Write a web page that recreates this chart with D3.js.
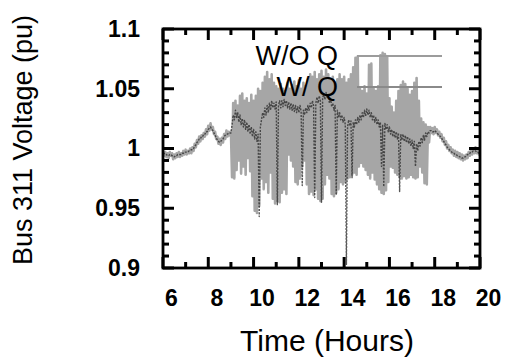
<!DOCTYPE html>
<html>
<head>
<meta charset="utf-8">
<script src="https://cdn.jsdelivr.net/npm/d3@7"></script>
<style>
  html, body { margin: 0; padding: 0; background: #fff; }
  svg { display: block; font-family: "Liberation Sans", Arial, sans-serif; }
</style>
</head>
<body>
<svg id="chart" width="505" height="364"></svg>
<script>
// ---------------- data ----------------
const startHour = 6;
const stepHours = 0.05;
const seriesNames = ["W/O Q", "W/ Q"];
const xTickValues = [6, 8, 10, 12, 14, 16, 18, 20];
const xTickLabels = ["6", "8", "10", "12", "14", "16", "18", "20"];
const yTickValues = [0.9, 0.95, 1, 1.05, 1.1];
const yTickLabels = ["0.9", "0.95", "1", "1.05", "1.1"];

// W/O Q voltage, sampled every 0.05 h from 6:00 to 20:00
const voltageWithoutQ = [
  // 6.00 - 6.95
  0.998,0.994,0.997,0.993,0.996,0.992,0.997,0.994,0.996,0.991,0.995,0.992,0.996,0.993,0.997,0.993,0.996,0.994,0.998,0.995,
  // 7.00 - 7.95
  0.999,0.995,0.998,0.996,1.000,0.996,1.001,0.998,1.004,1.001,1.007,1.004,1.010,1.006,1.011,1.008,1.013,1.010,1.016,1.012,
  // 8.00 - 8.95
  1.019,1.015,1.021,1.016,1.018,1.012,1.014,1.008,1.010,1.004,1.008,1.003,1.009,1.005,1.012,1.008,1.015,1.010,1.014,1.011,
  // 9.00 - 9.95
  1.014,0.976,1.038,0.975,1.040,0.982,1.036,0.990,1.044,0.979,1.046,0.985,1.040,0.978,1.042,0.992,1.038,0.981,1.045,0.960,
  // 10.00 - 10.95
  1.040,0.948,1.044,0.946,1.050,0.952,1.048,0.975,1.055,0.966,1.060,0.972,1.064,0.963,1.058,0.980,1.062,0.958,1.055,0.954,
  // 11.00 - 11.95
  1.052,0.956,1.050,0.955,1.054,0.963,1.050,0.966,1.048,0.962,1.055,0.995,1.050,0.990,1.053,0.985,1.056,0.972,1.052,0.970,
  // 12.00 - 12.95
  1.057,0.975,1.050,0.985,1.055,0.990,1.052,0.970,1.058,0.962,1.062,0.964,1.060,0.961,1.064,0.966,1.058,0.958,1.062,0.956,
  // 13.00 - 13.95
  1.065,0.958,1.060,0.970,1.066,0.978,1.062,0.975,1.058,0.962,1.060,0.960,1.055,0.963,1.058,0.966,1.062,0.972,1.058,0.970,
  // 14.00 - 14.95
  1.060,0.972,1.055,0.975,1.058,0.976,1.062,0.978,1.068,0.980,1.076,0.978,1.077,0.985,1.050,0.988,1.048,0.985,1.052,0.982,
  // 15.00 - 15.95
  1.046,0.978,1.070,0.975,1.071,0.980,1.050,0.974,1.048,0.970,1.052,0.966,1.078,0.963,1.080,0.962,1.079,0.965,1.077,0.972,
  // 16.00 - 16.95
  1.042,0.985,1.035,0.984,1.030,0.980,1.040,0.978,1.048,0.976,1.053,0.975,1.056,0.977,1.054,0.975,1.050,0.976,1.045,0.978,
  // 17.00 - 17.75
  1.048,0.976,1.055,0.975,1.059,0.976,1.040,0.985,1.025,0.980,1.022,0.971,1.020,0.970,1.018,1.005,
  // 17.80 - 18.75
  1.018,1.013,1.017,1.012,1.018,1.013,1.016,1.011,1.014,1.009,1.012,1.006,1.009,1.003,1.006,1.000,1.003,0.998,1.001,0.996,
  // 18.80 - 19.75
  0.999,0.994,0.998,0.993,0.997,0.992,0.996,0.991,0.995,0.990,0.994,0.991,0.995,0.992,0.997,0.994,0.999,0.995,1.000,0.996,
  // 19.80 - 20.00
  1.001,0.996,0.999,0.995,0.998
];

// W/ Q voltage, sampled every 0.05 h from 6:00 to 20:00
const voltageWithQ = [
  // 6.00 - 6.95
  0.996,0.996,0.995,0.995,0.994,0.994,0.995,0.995,0.994,0.993,0.993,0.994,0.994,0.995,0.995,0.995,0.995,0.996,0.996,0.997,
  // 7.00 - 7.95
  0.997,0.997,0.997,0.998,0.998,0.999,0.999,1.000,1.002,1.003,1.005,1.006,1.008,1.008,1.010,1.010,1.012,1.012,1.014,1.014,
  // 8.00 - 8.95
  1.016,1.017,1.018,1.016,1.015,1.013,1.011,1.009,1.007,1.006,1.005,1.006,1.007,1.008,1.010,1.011,1.012,1.012,1.013,1.013,
  // 9.00 - 9.95
  1.013,1.020,1.028,1.024,1.032,1.026,1.030,1.022,1.028,1.020,1.025,1.018,1.024,1.016,1.022,1.014,1.020,1.012,1.018,1.010,
  // 10.00 - 10.95
  1.016,1.008,1.014,1.006,1.012,0.943,1.018,1.024,1.030,1.026,1.034,1.028,1.036,1.030,1.038,1.032,1.040,1.034,1.038,1.033,
  // 11.00 - 11.95
  1.039,0.953,1.036,1.040,1.034,1.040,1.035,1.041,1.036,1.040,1.034,1.039,1.033,1.038,1.032,1.037,1.031,1.036,1.030,1.035,
  // 12.00 - 12.95
  1.030,1.036,1.031,0.969,1.032,1.028,1.034,1.030,1.036,1.032,1.038,1.034,1.040,1.036,0.959,1.038,1.043,1.038,1.044,1.040,
  // 13.00 - 13.95
  0.955,1.042,1.046,1.041,1.047,1.042,1.045,1.038,1.042,1.035,1.038,1.032,1.036,0.961,1.032,1.026,1.030,1.024,1.028,1.022,
  // 14.00 - 14.95
  1.026,1.020,0.903,1.018,1.024,1.019,1.023,0.975,1.022,1.018,1.024,1.020,1.026,1.022,1.028,1.024,1.030,1.026,1.032,1.027,
  // 15.00 - 15.95
  1.033,1.028,1.032,1.026,1.030,1.024,1.028,1.022,1.026,1.020,1.024,1.018,1.022,0.985,1.020,0.968,1.021,1.016,1.020,1.014,
  // 16.00 - 16.95
  1.018,1.012,1.016,1.010,1.015,1.009,1.014,1.008,1.013,0.964,1.012,1.007,1.012,1.006,1.011,1.005,1.010,1.004,1.008,1.002,
  // 17.00 - 17.75
  1.007,1.000,1.006,0.985,1.004,0.998,1.006,1.002,1.009,1.005,1.011,1.007,1.013,1.010,1.014,1.013,
  // 17.80 - 18.75
  1.015,1.015,1.014,1.014,1.015,1.014,1.013,1.012,1.011,1.010,1.009,1.007,1.006,1.004,1.003,1.001,1.000,0.999,0.998,0.997,
  // 18.80 - 19.75
  0.996,0.996,0.995,0.995,0.994,0.994,0.993,0.993,0.992,0.992,0.993,0.993,0.994,0.995,0.995,0.996,0.997,0.997,0.998,0.998,
  // 19.80 - 20.00
  0.998,0.997,0.997,0.996,0.996
];

// ---------------- chart ----------------
const svg = d3.select("#chart");
const plotLeft = 163, plotRight = 480, plotTop = 29, plotBottom = 268;

const x = d3.scaleLinear().domain([6, 20]).range([plotLeft, plotRight]);
const y = d3.scaleLinear().domain([0.9, 1.1]).range([plotBottom, plotTop]);

const toPoints = vals => vals.map((v, i) => [startHour + i * stepHours, v]);
const line = d3.line().x(d => x(d[0])).y(d => y(d[1]));

svg.append("defs").append("clipPath").attr("id", "clip")
  .append("rect").attr("x", plotLeft).attr("y", plotTop)
  .attr("width", plotRight - plotLeft).attr("height", plotBottom - plotTop);

const dataG = svg.append("g").attr("clip-path", "url(#clip)");
dataG.append("path")
  .datum(toPoints(voltageWithoutQ))
  .attr("d", line)
  .attr("fill", "none")
  .attr("stroke", "#a6a6a6")
  .attr("stroke-width", 2.6)
  .attr("stroke-linejoin", "round");
dataG.append("path")
  .datum(toPoints(voltageWithQ))
  .attr("d", line)
  .attr("fill", "none")
  .attr("stroke", "#2e2e2e")
  .attr("stroke-width", 1.4)
  .attr("stroke-dasharray", "2 1.3")
  .attr("stroke-opacity", 0.8)
  .attr("stroke-linejoin", "round");

// frame
svg.append("rect")
  .attr("x", plotLeft).attr("y", plotTop)
  .attr("width", plotRight - plotLeft).attr("height", plotBottom - plotTop)
  .attr("fill", "none").attr("stroke", "#000").attr("stroke-width", 2.8);

// ---- tick marks (inward on all four sides) ----
const hourTicks = d3.range(6, 21, 1);
const minorY = d3.range(0, 21).map(i => 0.9 + i * 0.01);
const ticksG = svg.append("g");
const isMajorX = h => xTickValues.includes(h);
const isMajorY = v => yTickValues.some(t => Math.abs(t - v) < 1e-6);

function tickLines(cls, data, fn) {
  ticksG.selectAll("line." + cls).data(data).join("line")
    .attr("class", cls)
    .each(function (d) {
      const c = fn(d);
      d3.select(this).attr("x1", c[0]).attr("y1", c[1]).attr("x2", c[2]).attr("y2", c[3]);
    })
    .style("stroke", "#000")
    .style("stroke-width", "3px");
}
tickLines("xb", hourTicks, d => [x(d), plotBottom, x(d), plotBottom - (isMajorX(d) ? 11 : 6)]);
tickLines("xt", hourTicks, d => [x(d), plotTop, x(d), plotTop + (isMajorX(d) ? 11 : 6)]);
tickLines("yl", minorY, d => [plotLeft, y(d), plotLeft + (isMajorY(d) ? 11 : 6), y(d)]);
tickLines("yr", minorY, d => [plotRight, y(d), plotRight - (isMajorY(d) ? 11 : 6), y(d)]);

// ---- tick labels via d3 axes ----
function styleLabels(g) {
  g.select(".domain").remove();
  g.selectAll(".tick line").remove();
  g.selectAll("text")
    .attr("fill", "#000").attr("font-size", 23).attr("font-weight", "bold")
    .attr("font-family", "'Liberation Sans', Arial, sans-serif");
}
svg.append("g").attr("transform", `translate(0,${plotBottom})`)
  .call(d3.axisBottom(x).tickValues(xTickValues).tickSize(0).tickPadding(22)
        .tickFormat((d, i) => xTickLabels[i]))
  .call(styleLabels)
  .call(g => g.selectAll("text").attr("dx", 8));
svg.append("g").attr("transform", `translate(${plotLeft},0)`)
  .call(d3.axisLeft(y).tickValues(yTickValues).tickSize(0).tickPadding(23)
        .tickFormat((d, i) => yTickLabels[i]))
  .call(styleLabels);

// ---- legend ----
const legendColors = ["#9c9c9c", "#8a8a8a"];
const legendY = [56, 87];
const legendTextRight = 338;
seriesNames.forEach((name, i) => {
  svg.append("text")
    .attr("x", legendTextRight).attr("y", legendY[i])
    .attr("dy", "0.35em")
    .attr("text-anchor", "end")
    .attr("font-size", 27)
    .attr("fill", "#000")
    .text(name);
  svg.append("line")
    .attr("x1", 357).attr("x2", 442)
    .attr("y1", legendY[i]).attr("y2", legendY[i])
    .attr("stroke", legendColors[i]).attr("stroke-width", 2);
});

// ---- axis titles ----
svg.append("text")
  .attr("x", 327).attr("y", 351)
  .attr("text-anchor", "middle")
  .attr("font-size", 30)
  .attr("fill", "#000")
  .text("Time (Hours)");

svg.append("text")
  .attr("transform", "translate(32,140) rotate(-90)")
  .attr("text-anchor", "middle")
  .attr("font-size", 27)
  .attr("fill", "#000")
  .text("Bus 311 Voltage (pu)");
</script>
</body>
</html>
